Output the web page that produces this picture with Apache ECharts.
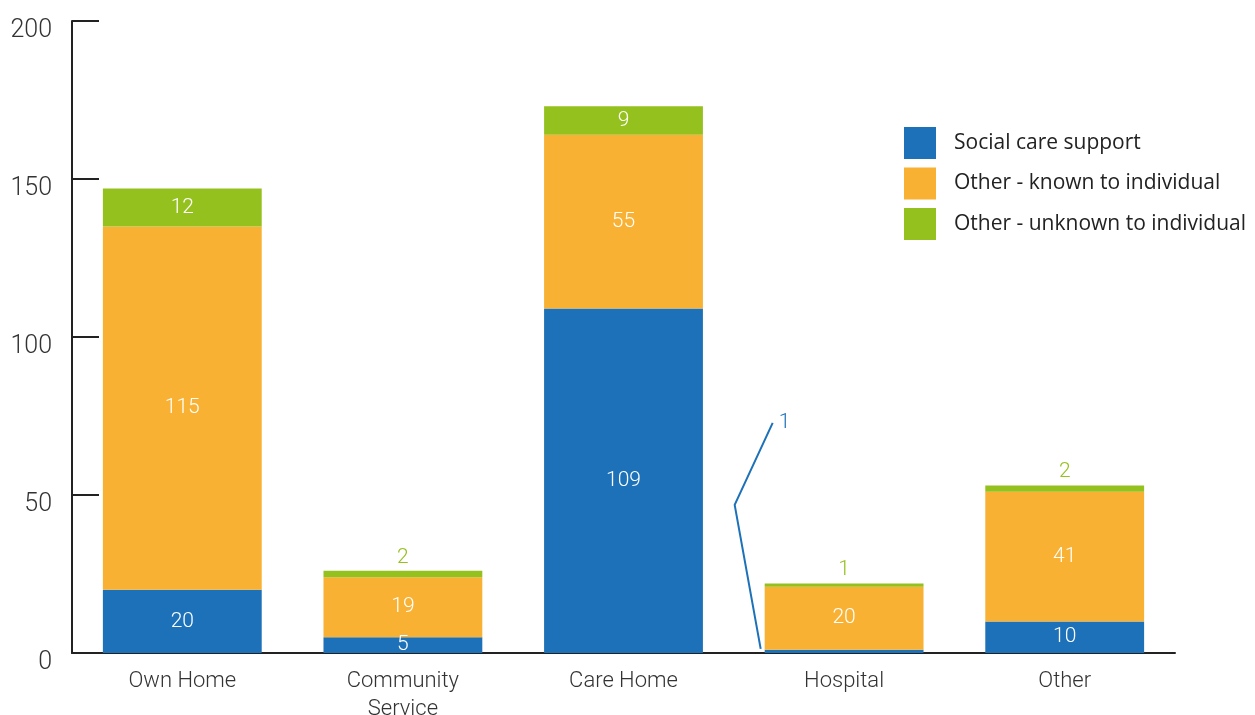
<!DOCTYPE html>
<html><head><meta charset="utf-8">
<script src="https://cdn.jsdelivr.net/npm/echarts@6/dist/echarts.min.js"></script>
<style>html,body{margin:0;padding:0;background:#fff}#c{width:1255px;height:715px}</style>
</head><body><div id="c"></div>
<script>
const categories = ['Own Home', 'Community\nService', 'Care Home', 'Hospital', 'Other'];
const socialCare = [20, 5, 109, 1, 10];
const knownOther = [115, 19, 55, 20, 41];
const unknownOther = [12, 2, 9, 1, 2];
const seriesNames = ['Social care support', 'Other - known to individual', 'Other - unknown to individual'];
const colors = ['#1d71b8', '#f8b133', '#95c11f'];

const numFont = 'Roboto';
const BAR_FRAC = 0.72;

const chart = echarts.init(document.getElementById('c'), null, { renderer: 'canvas' });

function labelStyle() {
  return { show: true, position: 'inside', color: '#fff', fontFamily: numFont, fontWeight: 300, fontSize: 21 };
}

const blueData = socialCare.map(v => v < 3 ? { value: v, label: { show: false } } : v);
const greenData = unknownOther.map(v => v < 5 ? { value: v, label: { position: 'top', distance: 3, color: colors[2] } } : v);
const calloutData = [];
socialCare.forEach((v, i) => { if (v < 3) calloutData.push([i, v]); });

const option = {
  animation: false,
  backgroundColor: '#fff',
  grid: { left: 72, right: 80, top: 21, bottom: 62, containLabel: false, outerBoundsMode: 'none' },
  legend: {
    orient: 'vertical', left: 904, top: 127, padding: 0,
    itemWidth: 32, itemHeight: 32, itemGap: 8.5,
    icon: 'rect',
    data: seriesNames,
    textStyle: { fontFamily: 'Open Sans', fontSize: 21, color: '#222', padding: [0, 0, 0, 13] }
  },
  xAxis: {
    type: 'category', data: categories,
    axisLine: { lineStyle: { color: '#222', width: 2 } },
    axisTick: { inside: true, length: 13, lineStyle: { color: '#222', width: 2 } },
    axisLabel: { fontFamily: numFont, fontWeight: 300, fontSize: 22, color: '#333', margin: 14, lineHeight: 28 }
  },
  yAxis: {
    type: 'value', min: 0, max: 200, interval: 50,
    splitLine: { show: false },
    axisLine: { show: true, lineStyle: { color: '#222', width: 2 } },
    axisTick: { show: true, inside: true, length: 27, lineStyle: { color: '#222', width: 2 } },
    axisLabel: { fontFamily: numFont, fontWeight: 300, fontSize: 25, color: '#333', margin: 20, verticalAlign: 'top', padding: [-3, 0, 0, 0] }
  },
  series: [
    { name: seriesNames[0], type: 'bar', stack: 's', barWidth: (BAR_FRAC * 100) + '%', data: blueData, itemStyle: { color: colors[0] }, label: labelStyle() },
    { name: seriesNames[1], type: 'bar', stack: 's', data: knownOther, itemStyle: { color: colors[1] }, label: labelStyle() },
    { name: seriesNames[2], type: 'bar', stack: 's', data: greenData, itemStyle: { color: colors[2] }, label: labelStyle() },
    {
      type: 'custom', coordinateSystem: 'cartesian2d', z: 10, silent: true,
      data: calloutData,
      renderItem: function (params, api) {
        const xi = api.value(0), v = api.value(1);
        const top = api.coord([xi, v]);
        const bw = api.size([1, 0])[0] * BAR_FRAC;
        const lx = top[0] - bw / 2, ly = top[1];
        return {
          type: 'group',
          children: [
            { type: 'polyline', shape: { points: [[lx - 4, ly - 1], [lx - 30, ly - 145], [lx + 8, ly - 227]] },
              style: { stroke: colors[0], lineWidth: 2, fill: null } },
            { type: 'text', x: lx + 14, y: ly - 227,
              style: { text: String(v), fill: colors[0], fontFamily: numFont, fontWeight: 300, fontSize: 21, verticalAlign: 'middle', align: 'left' } }
          ]
        };
      }
    }
  ]
};
chart.setOption(option);
</script></body></html>
